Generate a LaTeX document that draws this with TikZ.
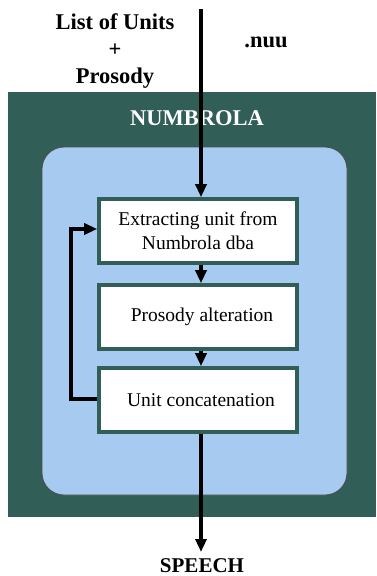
\documentclass[tikz,border=0pt]{standalone}
\usepackage{fontspec}
\setmainfont{Liberation Serif}
\usetikzlibrary{arrows.meta}
\definecolor{darkteal}{RGB}{49,94,87}
\definecolor{lightblue}{RGB}{166,202,240}
\tikzset{
  stepbox/.style={draw=darkteal, line width=3.6pt, fill=white, minimum width=198pt, minimum height=64pt, align=center, font=\fontsize{19.5}{24}\selectfont, inner sep=0pt},
  flow/.style={line width=3.2pt, -{Triangle[width=11pt,length=13pt]}},
  biglabel/.style={font=\bfseries\fontsize{22.5}{27}\selectfont, align=center, inner sep=0pt}
}
\begin{document}
\begin{tikzpicture}[x=1pt,y=-1pt]
\useasboundingbox (0,0) rectangle (376,576);
\fill[darkteal] (8,92) rectangle (376,517);
\draw[fill=lightblue, draw=black!70, line width=0.8pt, rounded corners=22pt] (42,147) rectangle (347,495);
\node[biglabel, text=white] (numb) at (197,118) {NUMBROLA};
\node[biglabel] (inp) at (115,51) {List of Units\\+\\Prosody};
\node[biglabel] (nuu) at (266,42) {.nuu};
\node[font=\bfseries\fontsize{21}{24}\selectfont, inner sep=0pt, anchor=base] (speech) at (202,572) {SPEECH};
\node[stepbox] (b1) at (198,231) {Extracting unit from\\Numbrola dba};
\node[stepbox] (b2) at (198,317) {\hspace*{8pt}Prosody alteration};
\node[stepbox] (b3) at (198,400) {\hspace*{6pt}Unit concatenation};
\coordinate (top) at (201,9);
\coordinate (bot) at (201,552);
\coordinate (lp) at (71,399);
\coordinate (lq) at (71,229);
\draw[flow] (top) -- (top |- b1.north);
\draw[flow] (top |- b1.south) -- (top |- b2.north);
\draw[flow] (top |- b2.south) -- (top |- b3.north);
\draw[flow] (top |- b3.south) -- (bot);
\draw[flow] (b3.west |- lp) -- (lp) -- (lq) -- (b1.west |- lq);
\end{tikzpicture}
\end{document}
